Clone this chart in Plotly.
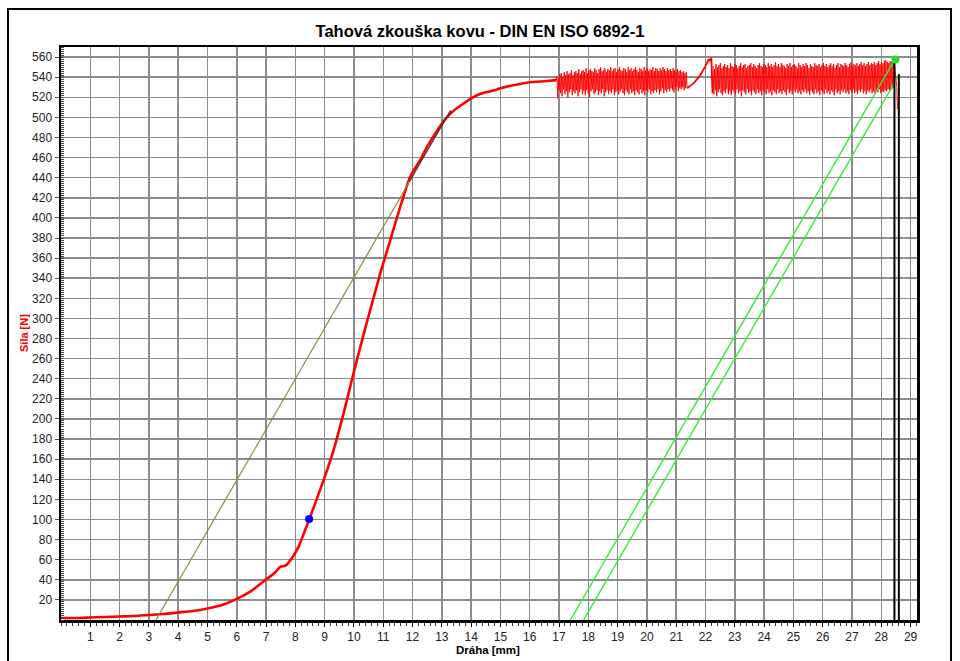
import numpy as np
import plotly.graph_objects as go

# ---- data ----
# smooth part of the force-displacement curve
curve_x = [0.0, 0.5, 1.0, 1.5, 2.0, 2.5, 3.0, 3.5, 4.0, 4.5, 5.0, 5.5, 6.0, 6.5, 7.03,
           7.3, 7.49, 7.66, 7.89, 8.11, 8.34, 8.48, 8.97, 9.31, 9.65, 9.93, 10.22,
           10.56, 10.90, 11.24, 11.58, 11.92, 12.27, 12.5, 12.8, 13.06, 13.3, 13.6,
           13.9, 14.2, 14.5, 14.8, 15.0, 15.44, 16.0, 16.5, 16.91]
curve_y = [2, 2, 2.5, 3, 3.5, 4, 5, 6, 7.5, 9, 11.5, 15, 21, 29, 41,
           47, 53, 54, 62, 73, 90, 100.5, 139.6, 169.5, 206, 239, 272,
           309, 345, 378, 411, 441, 458, 471, 485, 496, 504, 511,
           517, 522, 525, 527, 529, 532, 535, 536, 537]

# serrated (jerky flow) region, segment A: peaks and troughs
seg_a_range = [16.93, 21.37]
peaks_a = [541, 539, 543, 544, 540, 545, 542, 546, 543, 544,
           547, 542, 545, 546, 544, 548, 543, 546, 547, 545,
           549, 544, 547, 548, 546, 545, 549, 547, 544, 548,
           550, 546, 547, 549, 545, 548, 547, 550, 546, 548,
           549, 545, 548, 550, 547, 546, 549, 548, 545, 550,
           547, 549, 546, 548, 550, 547, 545, 549, 548, 546,
           550, 547, 549, 546, 548, 547, 550, 546, 549, 548,
           546, 549, 547, 550, 548, 546, 549, 547, 548, 546,
           549, 547, 545, 548, 546, 547, 545, 546, 544, 545]
troughs_a = [519, 527, 524, 521, 528, 523, 526, 520, 525, 528,
             522, 526, 524, 527, 521, 525, 528, 523, 526, 522,
             527, 524, 520, 526, 528, 523, 525, 527, 522, 526,
             524, 528, 521, 525, 527, 523, 526, 524, 528, 522,
             525, 527, 523, 526, 528, 524, 522, 527, 525, 523,
             528, 524, 526, 522, 527, 525, 523, 528, 524, 526,
             522, 527, 525, 528, 523, 526, 524, 527, 525, 528,
             523, 526, 529, 524, 527, 525, 528, 526, 529, 527,
             525, 528, 530, 526, 529, 528, 530, 527, 529, 530]

# smooth rise between the serrated segments
rise_x = [21.37, 21.6, 21.8, 22.0, 22.11, 22.15, 22.2, 22.24]
rise_y = [529, 534, 541, 551, 558, 556, 559, 524]

# serrated region, segment B
seg_b_range = [22.26, 28.43]
peaks_b = [551, 548, 553, 550, 552, 554, 549, 551, 553, 550,
           552, 549, 554, 551, 550, 553, 552, 549, 551, 554,
           550, 552, 553, 549, 551, 552, 554, 550, 553, 551,
           549, 552, 554, 551, 550, 553, 552, 550, 554, 551,
           553, 550, 552, 555, 551, 553, 550, 554, 552, 551,
           549, 553, 551, 554, 550, 552, 553, 551, 549, 554,
           552, 550, 553, 551, 554, 552, 549, 553, 551, 550,
           554, 552, 551, 553, 550, 552, 554, 551, 553, 550,
           552, 554, 551, 553, 549, 552, 554, 550, 553, 552,
           551, 554, 552, 550, 553, 555, 551, 553, 552, 554,
           551, 553, 555, 552, 554, 551, 553, 555, 552, 554,
           553, 555, 552, 554, 556, 553, 555, 554, 556, 557,
           555, 554, 556, 555, 557]
troughs_b = [523, 527, 521, 525, 528, 524, 522, 526, 524, 528,
             523, 526, 522, 527, 525, 523, 528, 524, 526, 521,
             527, 525, 523, 528, 524, 526, 522, 527, 525, 523,
             528, 524, 526, 522, 527, 525, 523, 528, 524, 526,
             522, 527, 525, 523, 528, 524, 526, 523, 527, 525,
             522, 528, 524, 526, 523, 527, 525, 528, 524, 526,
             523, 527, 525, 528, 524, 526, 522, 527, 525, 523,
             528, 524, 526, 522, 527, 525, 523, 528, 524, 526,
             523, 527, 525, 522, 528, 524, 526, 523, 527, 525,
             528, 524, 526, 523, 527, 525, 528, 524, 526, 523,
             527, 525, 528, 524, 526, 523, 527, 525, 528, 524,
             526, 523, 527, 525, 528, 524, 526, 525, 527, 526,
             528, 525, 527, 529, 530]

# fracture drop
end_x = [28.43, 28.53, 28.55]
end_y = [557, 531, 508]

# construction lines
tangent_x = [3.24, 11.98]          # olive line
tangent_y = [0, 440.5]
tangent_ext_x = [11.9, 13.3]       # dark continuation
tangent_ext_y = [436.5, 507]
green1_x = [17.39, 28.45]
green1_y = [0, 557]
green2_x = [17.84, 28.6]
green2_y = [0, 542]
vline1_x = [28.45, 28.45]
vline1_y = [0, 557]
vline2_x = [28.6, 28.6]
vline2_y = [0, 543]
point_blue = (8.47, 100.5)
point_green = (28.48, 557.5)

x_ticks = list(range(1, 30))
y_ticks = list(range(20, 561, 20))

# ---- build serrated series ----
def interleave(p, t):
    out = []
    for a, b in zip(p, t):
        out += [a, b]
    return out

ya = interleave(peaks_a, troughs_a)
xa = np.linspace(seg_a_range[0], seg_a_range[1], len(ya))
yb = interleave(peaks_b, troughs_b)
xb = np.linspace(seg_b_range[0], seg_b_range[1], len(yb))

RED = "#ff0000"
fig = go.Figure()
fig.add_trace(go.Scatter(x=curve_x, y=curve_y, mode="lines",
                         line=dict(color=RED, width=2.6, shape="spline", smoothing=0.6),
                         hoverinfo="skip"))
fig.add_trace(go.Scatter(x=[curve_x[-1]] + list(xa), y=[curve_y[-1]] + ya, mode="lines",
                         line=dict(color=RED, width=0.9), hoverinfo="skip"))
fig.add_trace(go.Scatter(x=rise_x, y=rise_y, mode="lines",
                         line=dict(color=RED, width=1.8), hoverinfo="skip"))
fig.add_trace(go.Scatter(x=list(xb) + end_x, y=yb + end_y, mode="lines",
                         line=dict(color=RED, width=0.9), hoverinfo="skip"))
fig.add_trace(go.Scatter(x=tangent_x, y=tangent_y, mode="lines",
                         line=dict(color="#8b8b3a", width=1.2), hoverinfo="skip"))
fig.add_trace(go.Scatter(x=tangent_ext_x, y=tangent_ext_y, mode="lines",
                         line=dict(color="#333333", width=1.2), hoverinfo="skip"))
for gx, gy in [(green1_x, green1_y), (green2_x, green2_y)]:
    fig.add_trace(go.Scatter(x=gx, y=gy, mode="lines",
                             line=dict(color="#33ee33", width=1.4), hoverinfo="skip"))
for vx, vy in [(vline1_x, vline1_y), (vline2_x, vline2_y)]:
    fig.add_trace(go.Scatter(x=vx, y=vy, mode="lines",
                             line=dict(color="black", width=2), hoverinfo="skip"))
fig.add_trace(go.Scatter(x=[point_blue[0]], y=[point_blue[1]], mode="markers",
                         marker=dict(color="#0000ff", size=8), hoverinfo="skip"))
fig.add_trace(go.Scatter(x=[point_green[0]], y=[point_green[1]], mode="markers",
                         marker=dict(color="#22dd22", size=8), hoverinfo="skip"))

FONT = "Liberation Sans, Arial, sans-serif"
axis_font = dict(family=FONT, size=12, color="#222222")
fig.update_xaxes(range=[0, 29.22], tickmode="array", tickvals=x_ticks,
                 ticktext=[str(v) for v in x_ticks], tickfont=axis_font,
                 showgrid=True, gridcolor="#8c8c8c", gridwidth=1.5,
                 showline=True, linecolor="black", linewidth=2.5, mirror=True,
                 ticks="outside", ticklen=4, tickcolor="black", zeroline=False,
                 minor=dict(tickmode="linear", tick0=0, dtick=0.2, ticks="outside",
                            ticklen=3, tickcolor="#333333", showgrid=False))
fig.update_yaxes(range=[0, 570], tickmode="array", tickvals=y_ticks,
                 ticktext=[str(v) for v in y_ticks], tickfont=axis_font,
                 showgrid=True, gridcolor="#8c8c8c", gridwidth=1.5,
                 showline=True, linecolor="black", linewidth=2.5, mirror=True,
                 ticks="outside", ticklen=4, tickcolor="#555555", zeroline=False,
                 minor=dict(tickmode="linear", tick0=0, dtick=2, ticks="inside",
                            ticklen=3, tickcolor="#444444", showgrid=False))

L, R, T, B = 61, 43, 47, 41
PW, PH = 960 - L - R, 661 - T - B


def px_to_paper(px, py):
    return (px - L) / PW, (661 - B - py) / PH


ax0, ay0 = px_to_paper(24, 333)
ax1, ay1 = px_to_paper(488, 650)
bx0, by0 = px_to_paper(8, 680)
bx1, by1 = px_to_paper(951, 9)

fig.update_layout(
    width=960, height=661,
    margin=dict(l=L, r=R, t=T, b=B),
    paper_bgcolor="white", plot_bgcolor="white",
    showlegend=False,
    title=dict(text="<b>Tahová zkouška kovu - DIN EN ISO 6892-1</b>",
               x=0.5, xref="container", xanchor="center",
               y=1 - 31 / 661, yref="container", yanchor="middle",
               font=dict(family=FONT, size=16.5, color="black")),
    annotations=[
        dict(text="<b>Síla [N]</b>", textangle=-90, x=ax0, y=ay0,
             xref="paper", yref="paper", xanchor="center", yanchor="middle",
             showarrow=False, font=dict(family=FONT, size=11, color=RED)),
        dict(text="<b>Dráha [mm]</b>", x=ax1, y=ay1,
             xref="paper", yref="paper", xanchor="center", yanchor="middle",
             showarrow=False, font=dict(family=FONT, size=11.5, color="black")),
    ],
    shapes=[dict(type="rect", xref="paper", yref="paper",
                 x0=bx0, x1=bx1, y0=by0, y1=by1,
                 line=dict(color="black", width=2), fillcolor="rgba(0,0,0,0)", layer="above")],
)

fig.write_html("out.html",
               config={"displayModeBar": False, "staticPlot": True},
               post_script="document.body.style.margin='0';document.body.style.overflow='hidden';")
